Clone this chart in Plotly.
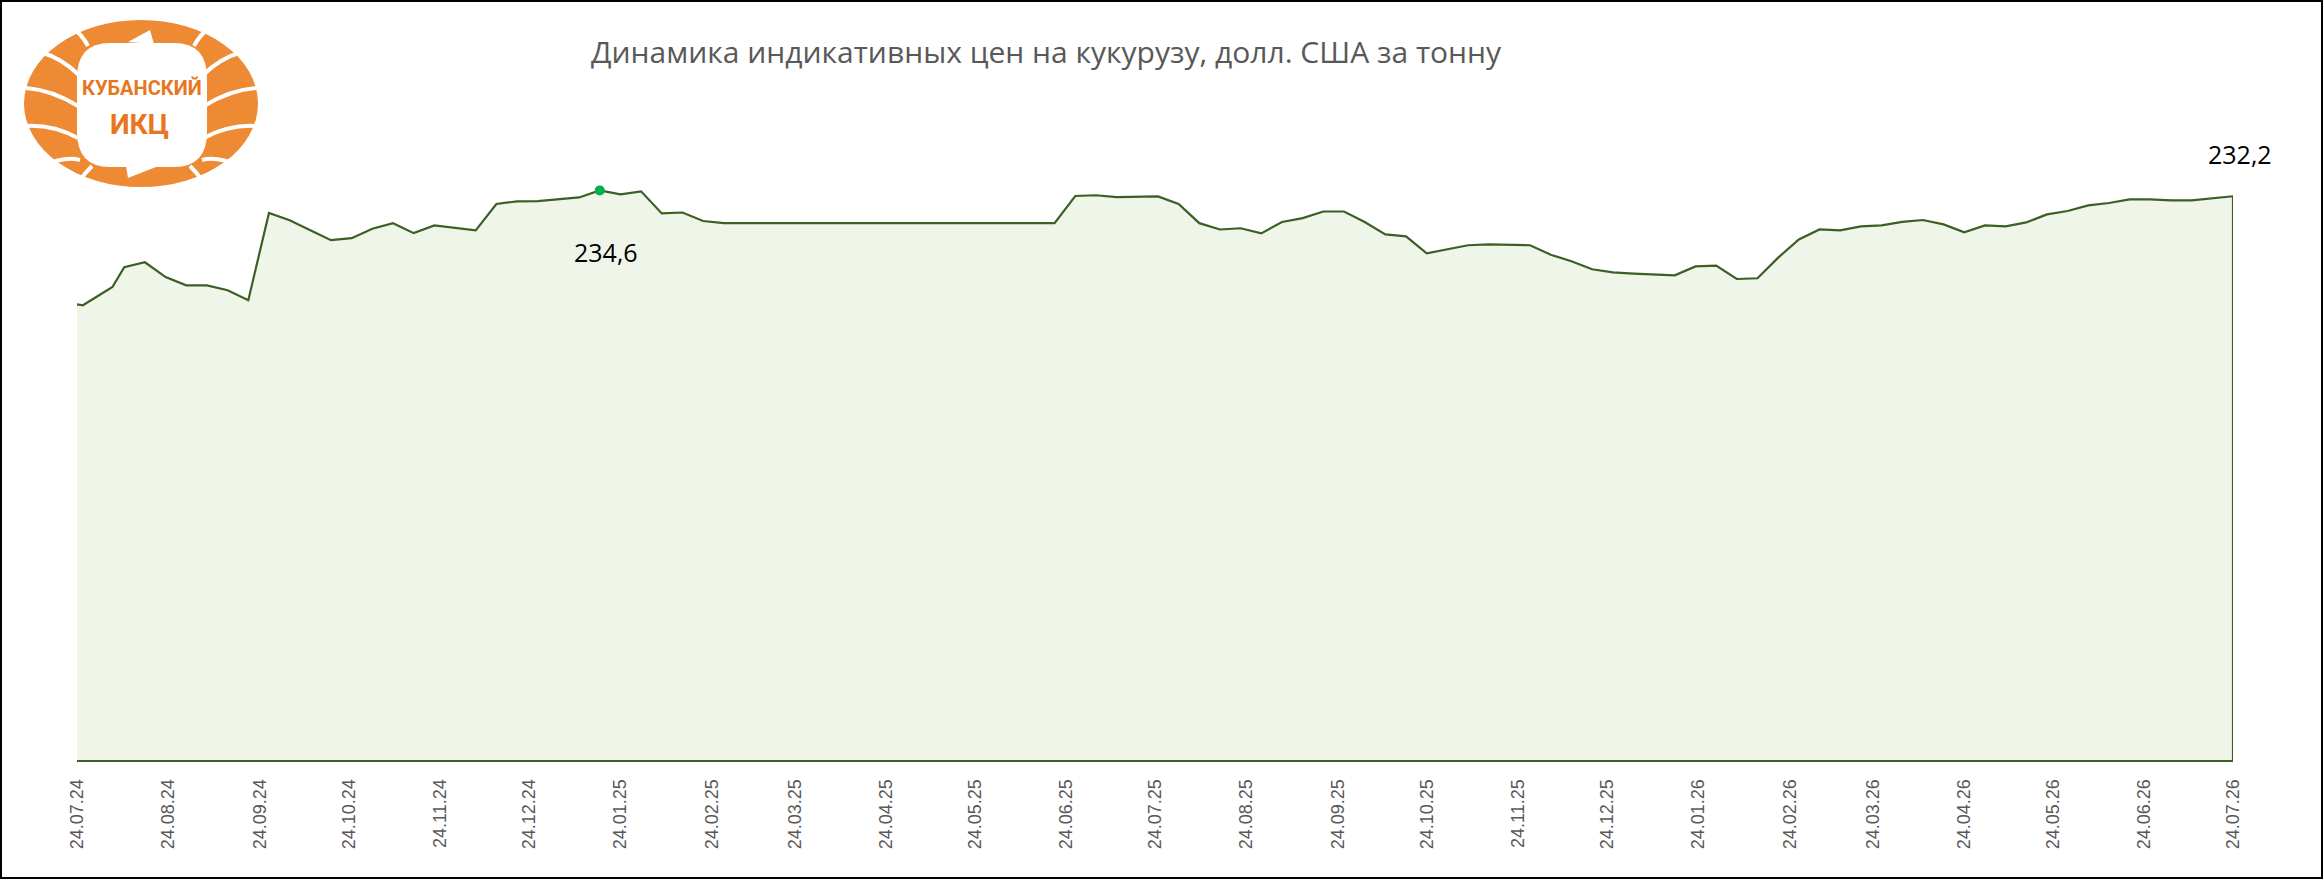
import plotly.graph_objects as go
import pandas as pd

# price of corn, USD per tonne (weekly quotes)
dates = ["2024-07-24", "2024-07-26", "2024-08-05"] + \
    [d.strftime("%Y-%m-%d") for d in pd.date_range("2024-08-09", "2026-07-24", freq="7D")]

prices = [187.7, 187.3, 194.8,
          203.0, 205.0, 198.9, 195.5, 195.5, 193.5, 189.4, 225.3, 222.3, 218.2,
          214.1, 214.9, 218.8, 221.1, 217.0, 220.2, 219.2, 218.1, 229.0, 230.1,
          230.2, 231.0, 231.7, 234.6, 233.0, 234.2, 225.1, 225.5, 222.0,
          221.1, 221.1, 221.1, 221.1, 221.1, 221.1, 221.1, 221.1, 221.1, 221.1,
          221.1, 221.1, 221.1, 221.1, 221.1, 221.1, 221.1,
          232.3, 232.6, 231.8, 231.8, 232.1, 229.0, 221.1, 218.5, 219.0, 216.9,
          221.6, 223.2, 225.9, 225.9, 221.6, 216.5, 215.7, 208.7, 210.3, 212.0,
          212.4, 212.1, 212.0, 208.1, 205.4, 202.1, 200.8, 200.3, 199.9, 199.6,
          203.3, 203.6, 198.1, 198.4, 206.9, 214.4, 218.5, 218.1, 219.8, 220.2,
          221.6, 222.4, 220.6, 217.3, 220.2, 219.8, 221.4, 224.7, 226.1, 228.4,
          229.4, 230.9, 230.9, 230.5, 230.5, 231.4, 232.2]

title = "Динамика индикативных цен на кукурузу, долл. США за тонну"

W, H = 2323, 879
L, R, T, B = 77, 90, 153, 119
PW, PH = W - L - R, H - T - B

def px(x):
    return (x - L) / PW

def py(y):
    return (H - B - y) / PH

def pt(x, y):
    return f"{px(x):.5f},{py(y):.5f}"

def fmt(v):
    return f"{v:.1f}".replace(".", ",")

imax = prices.index(max(prices))
line_col = "#3B5F24"
orange = "#EE8A33"

fig = go.Figure()
fig.add_trace(go.Scatter(x=dates, y=prices, mode="lines",
                         line=dict(color=line_col, width=2.2),
                         fill="tozeroy", fillcolor="#EFF6E9", hoverinfo="skip"))
# right edge of the area
fig.add_trace(go.Scatter(x=[dates[-1], dates[-1]], y=[prices[-1], 0], mode="lines",
                         line=dict(color=line_col, width=2.2), hoverinfo="skip"))
fig.add_trace(go.Scatter(x=[dates[imax]], y=[prices[imax]], mode="markers",
                         marker=dict(color="#00B050", size=10), hoverinfo="skip"))

fig.add_annotation(x=dates[imax], y=prices[imax], text=fmt(prices[imax]), showarrow=False,
                   xshift=6, yshift=-62, font=dict(size=25, color="black", family="Open Sans"))
fig.add_annotation(x=dates[-1], y=prices[-1], text=fmt(prices[-1]), showarrow=False,
                   xshift=7, yshift=42, font=dict(size=25, color="black", family="Open Sans"))

# frame + logo
inner = (f"M {pt(110, 43)} L {pt(174, 43)} Q {pt(207, 43)} {pt(207, 78)} L {pt(207, 132)} "
         f"Q {pt(207, 167)} {pt(174, 167)} L {pt(110, 167)} Q {pt(77, 167)} {pt(77, 132)} "
         f"L {pt(77, 78)} Q {pt(77, 43)} {pt(110, 43)} Z")
shapes = [
    dict(type="rect", xref="paper", yref="paper", x0=px(1), x1=px(W - 1), y0=py(H - 1), y1=py(1),
         line=dict(color="black", width=2), fillcolor="rgba(0,0,0,0)", layer="above"),
    dict(type="circle", xref="paper", yref="paper", x0=px(24), x1=px(258), y0=py(187), y1=py(20),
         fillcolor=orange, line=dict(width=0)),
    dict(type="path", xref="paper", yref="paper", path=inner, fillcolor="white", line=dict(width=0)),
]
cuts = [
    [(70, 26), (82, 34), (88, 46)],
    [(40, 52), (62, 58), (80, 76)],
    [(26, 88), (52, 90), (78, 106)],
    [(25, 126), (52, 124), (78, 138)],
    [(44, 166), (64, 156), (80, 160)],
    [(80, 180), (86, 172), (92, 166)],
]
for a, b, c in cuts:
    for m in (1, -1):
        x0, x1, x2 = [141 + m * (p[0] - 141) for p in (a, b, c)]
        path = f"M {pt(x0, a[1])} Q {pt(x1, b[1])} {pt(x2, c[1])}"
        shapes.append(dict(type="path", xref="paper", yref="paper", path=path,
                           line=dict(color="white", width=4)))
# arrow notches on the top and bottom bands
shapes.append(dict(type="path", xref="paper", yref="paper",
                   path=f"M {pt(150, 30)} L {pt(128, 42)} L {pt(154, 44)} Z",
                   fillcolor="white", line=dict(width=0)))
shapes.append(dict(type="path", xref="paper", yref="paper",
                   path=f"M {pt(128, 178)} L {pt(156, 167)} L {pt(126, 166)} Z",
                   fillcolor="white", line=dict(width=0)))
fig.update_layout(shapes=shapes)
fig.add_annotation(xref="paper", yref="paper", x=px(142), y=py(88), xanchor="center", yanchor="middle",
                   text="<b>КУБАНСКИЙ</b>", showarrow=False,
                   font=dict(size=20, color="#E8761E", family="Roboto"))
fig.add_annotation(xref="paper", yref="paper", x=px(139), y=py(125), xanchor="center", yanchor="middle",
                   text="<b>ИКЦ</b>", showarrow=False,
                   font=dict(size=28, color="#E8761E", family="Roboto"))

fig.update_layout(
    width=W, height=H,
    margin=dict(l=L, r=R, t=T, b=B),
    paper_bgcolor="white", plot_bgcolor="white",
    showlegend=False,
    title=dict(text=title, x=1046 / W, xanchor="center", y=1 - 52 / H, yanchor="middle",
               font=dict(size=30, color="#595959", family="Open Sans")),
    xaxis=dict(type="date", range=[dates[0], dates[-1]], tickformat="%d.%m.%y",
               dtick="M1", tick0=dates[0], tickangle=-90, showgrid=False,
               showline=True, linecolor=line_col, linewidth=2, ticks="", zeroline=False,
               ticklabelstandoff=10,
               tickfont=dict(size=18, color="#595959", family="Liberation Sans")),
    yaxis=dict(range=[0, 250], visible=False),
)

fig.write_html("out.html", config={"displayModeBar": False},
               post_script="document.body.style.margin='0';")
